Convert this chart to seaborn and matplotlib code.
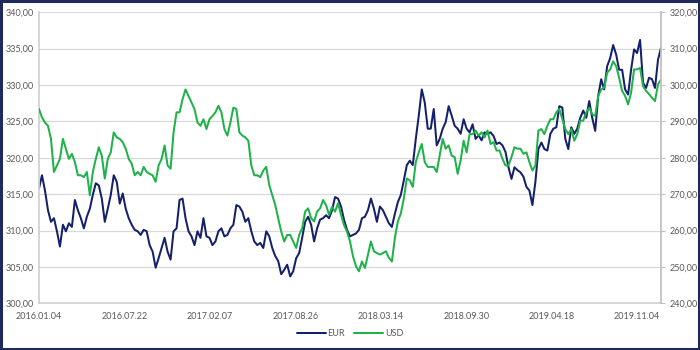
import matplotlib
matplotlib.use("Agg")
import matplotlib.pyplot as plt
from matplotlib.patches import Rectangle
from matplotlib.lines import Line2D
import pandas as pd
import seaborn as sns

# weekly readings, starting 2016-01-04
start_date = "2016-01-04"

eur = [
    315.8, 317.6, 315.5, 312.8, 311.2, 311.7, 309.9, 307.8, 310.8, 309.9,
    311.0, 310.5, 314.2, 312.8, 311.7, 310.3, 311.9, 313.0, 314.9, 316.5,
    316.2, 314.4, 311.2, 313.0, 314.9, 317.6, 316.7, 313.7, 315.1, 313.0,
    311.7, 310.8, 310.1, 309.9, 309.4,
    310.1, 309.9, 308.0, 307.1, 304.9, 306.2, 307.6, 309.0, 307.1, 306.0,
    309.9, 310.3, 314.2, 314.4, 311.7, 309.9, 309.2, 308.0, 309.9, 309.0,
    311.7, 309.2, 309.0, 308.0, 308.5, 309.9, 310.3, 309.2, 309.4, 310.3,
    310.8, 313.5, 313.3, 312.6, 311.2,
    311.7, 309.9, 308.5, 308.0, 308.3, 307.6, 309.9, 309.2, 307.6, 306.5,
    305.8, 304.0, 304.6, 305.3, 303.7, 304.4, 306.2, 306.9, 309.0, 311.2,
    311.9, 310.8, 308.5, 310.3, 311.5, 311.7, 312.1, 311.7, 312.8, 314.6,
    314.4, 313.3, 311.5, 310.1, 309.2,
    309.4, 309.6, 310.1, 311.7, 311.9, 312.8, 314.4, 313.0, 311.2, 313.3,
    312.8, 311.9, 311.0, 310.5, 312.3, 313.9, 314.9, 316.9, 319.0, 319.6,
    319.0, 322.6, 325.8, 329.4, 327.6, 324.0, 324.0, 326.7, 321.7, 322.6,
    324.0, 324.9, 327.1, 325.8, 324.4,
    324.0, 323.3, 325.3, 324.0, 323.5, 324.6, 322.6, 323.1, 322.4, 323.5,
    323.3, 323.5, 323.0, 321.9, 322.1, 321.7, 320.8, 318.7, 317.1, 318.7,
    318.3, 318.0, 317.4, 316.0, 315.5, 313.5, 316.7, 321.2, 322.1, 321.2,
    321.0, 323.3, 324.0, 324.2,
    327.1, 326.9, 322.6, 321.2, 324.2, 323.3, 324.0, 325.5, 326.5, 325.5,
    327.8, 325.5, 323.7, 328.5, 330.8, 329.4, 332.6, 333.7, 335.5, 334.2,
    332.1, 332.1, 329.4, 328.7, 332.1, 334.9, 334.4, 336.2, 330.3, 329.6,
    331.0, 330.8, 329.6, 333.5, 335.1,
]

usd = [
    293.4, 291.1, 289.7, 288.8, 285.2, 276.1, 277.9, 279.7, 285.2, 282.5,
    279.7, 281.1, 278.8, 275.2, 275.2, 274.7, 276.1, 269.7, 276.1, 279.7,
    282.9, 280.6, 274.3, 279.7, 281.5, 287.0, 285.6, 285.2, 284.3, 282.5,
    279.7, 278.4, 275.2, 276.1, 275.2,
    277.5, 276.1, 275.6, 275.2, 273.4, 277.9, 279.7, 283.4, 277.9, 277.0,
    287.0, 292.5, 292.5, 296.1, 298.8, 297.0, 295.2, 293.4, 289.7, 288.8,
    290.6, 287.9, 290.6, 291.5, 292.5, 294.3, 292.5, 287.9, 286.1, 289.7,
    293.8, 293.4, 287.0, 286.1, 285.6,
    284.7, 277.9, 275.2, 275.2, 274.7, 276.5, 277.5, 272.5, 269.7, 267.0,
    263.4, 259.7, 257.0, 258.8, 258.8, 257.0, 255.2, 258.8, 260.6, 265.2,
    266.1, 263.4, 262.5, 265.2, 266.1, 268.4, 267.0, 264.3, 266.5, 265.2,
    267.5, 264.3, 261.5, 259.7, 257.0,
    252.9, 250.2, 248.8, 251.5, 249.7, 253.4, 257.0, 254.3, 253.8, 253.4,
    253.8, 254.3, 252.5, 251.5, 257.9, 262.5, 264.7, 268.8, 274.3, 273.8,
    272.0, 278.8, 281.5, 283.8, 278.8, 277.5, 277.5, 277.5, 276.1, 280.6,
    285.2, 282.5, 283.4, 280.6, 280.2,
    275.6, 279.3, 284.7, 281.5, 286.5, 286.5, 287.5, 286.1, 287.0, 285.6,
    287.5, 283.8, 284.3, 282.0, 282.0, 279.7, 277.9, 277.9, 280.2, 282.9,
    282.5, 282.5, 281.1, 281.5, 278.8, 276.5, 277.9, 287.5, 287.9, 286.5,
    288.8, 290.6, 290.6, 292.5,
    293.4, 290.6, 287.9, 286.5, 287.9, 284.7, 286.5, 290.2, 290.2, 292.5,
    293.8, 292.0, 291.5, 297.0, 298.8, 299.3, 303.4, 304.3, 306.5, 305.2,
    302.0, 298.4, 297.0, 294.7, 297.9, 304.3, 304.3, 304.7, 299.7, 298.4,
    297.5, 296.5, 295.6, 300.2, 301.5,
]

left_ticks = [300, 305, 310, 315, 320, 325, 330, 335, 340]
right_ticks = [240, 250, 260, 270, 280, 290, 300, 310, 320]
x_tick_labels = ["2016.01.04", "2016.07.22", "2017.02.07", "2017.08.26",
                 "2018.03.14", "2018.09.30", "2019.04.18", "2019.11.04"]

dates = pd.date_range(start_date, periods=len(eur), freq="7D")
df = pd.DataFrame({"date": dates, "EUR": eur, "USD": usd})

sns.set_theme(style="white")
plt.rcParams["font.family"] = ["Lato", "DejaVu Sans"]

EUR_C = "#15206a"
USD_C = "#1fb24a"
GRID_C = "#d9d9d9"
TXT_C = "#595959"
LW = 1.45

fig = plt.figure(figsize=(7, 3.5), dpi=100)
ax = fig.add_axes([39 / 700, 1 - 303.3 / 350, 622 / 700, (303.3 - 12.3) / 350])
ax2 = ax.twinx()

sns.lineplot(data=df, x="date", y="EUR", ax=ax, color=EUR_C, linewidth=LW, legend=False)
sns.lineplot(data=df, x="date", y="USD", ax=ax2, color=USD_C, linewidth=LW, legend=False)

ax.set_ylim(300, 340)
ax2.set_ylim(240, 320)
ax.set_xlim(dates[0], dates[-1])

ax.set_yticks(left_ticks)
ax.set_yticklabels([f"{v:.2f}".replace(".", ",") for v in left_ticks])
ax2.set_yticks(right_ticks)
ax2.set_yticklabels([f"{v:.2f}".replace(".", ",") for v in right_ticks])

xt = pd.to_datetime(x_tick_labels, format="%Y.%m.%d")
ax.set_xticks(xt)
ax.set_xticklabels(x_tick_labels)

ax.grid(axis="y", color=GRID_C, linewidth=0.9)
ax.grid(axis="x", visible=False)
ax2.grid(False)
ax.set_axisbelow(True)

for a in (ax, ax2):
    a.set_xlabel("")
    a.set_ylabel("")
    a.tick_params(axis="both", labelsize=6.5, labelcolor=TXT_C, length=0, pad=4)
    for s in a.spines.values():
        s.set_visible(False)
ax2.tick_params(axis="y", length=3, color="#bfbfbf", width=0.8, pad=3)
ax.spines["left"].set_visible(True)
ax.spines["left"].set_color("#d0d0d0")
ax.spines["bottom"].set_visible(True)
ax.spines["bottom"].set_color("#d0d0d0")
ax2.spines["right"].set_visible(True)
ax2.spines["right"].set_color("#bfbfbf")
ax.tick_params(axis="x", pad=6)

handles = [Line2D([], [], color=EUR_C, lw=LW), Line2D([], [], color=USD_C, lw=LW)]
fig.legend(handles, ["EUR", "USD"], loc="center", bbox_to_anchor=(0.5, 1 - 334 / 350),
           ncol=2, frameon=False, fontsize=6.5, labelcolor=TXT_C,
           handlelength=3.2, handletextpad=0.2, columnspacing=1.0)

fig.patches.append(Rectangle((0.002, 0.003), 0.996, 0.994, transform=fig.transFigure,
                             fill=False, edgecolor="#1f2a5c", linewidth=2.2))

fig.savefig("out.png", dpi=100, facecolor="white")
